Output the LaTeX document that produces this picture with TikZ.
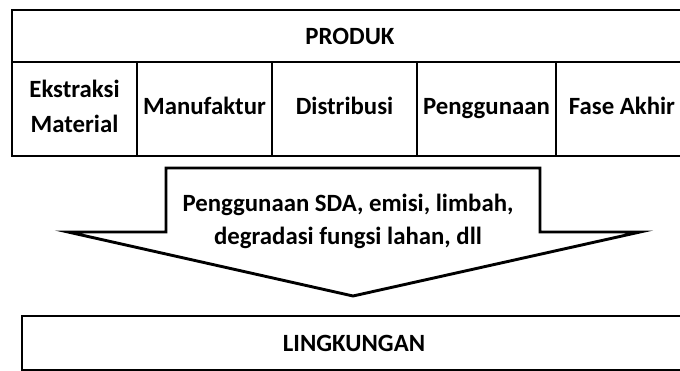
\documentclass[tikz,border=0pt]{standalone}
\usepackage{fontspec}
\setmainfont{Carlito}
\begin{document}
\begin{tikzpicture}[x=1pt,y=-1pt,
  box/.style={draw=black,line width=2.9pt,rectangle,inner sep=0pt,font=\fontsize{24.8}{35}\selectfont\bfseries,text=black,align=center},
  one/.style={text height=18pt,text depth=6pt},
  lbl/.style={inner sep=0pt,font=\fontsize{24.8}{33}\selectfont\bfseries,text=black,align=center}]
\clip (0,0) rectangle (680,371);
\useasboundingbox (0,0) rectangle (680,371);
\fill[white] (0,0) rectangle (680,371);
% header
\node[box,minimum width=676pt,minimum height=52pt] (produk) at (350,36) {PRODUK};
% cells
\node[box,minimum width=125pt,minimum height=94pt,text depth=5pt] (c1) at (74.5,109) {Ekstraksi\\Material};
\node[box,one,minimum width=135pt,minimum height=94pt] (c2) at (204.5,109) {Manufaktur};
\node[box,one,minimum width=145pt,minimum height=94pt] (c3) at (344.5,109) {Distribusi};
\node[box,one,minimum width=139pt,minimum height=94pt] (c4) at (486.5,109) {Penggunaan};
\node[box,one,minimum width=132pt,minimum height=94pt] (c5) at (622,109) {Fase Akhir};
% arrow
\coordinate (a1) at (166,168);
\coordinate (a2) at (540,168);
\coordinate (a3) at (540,232);
\coordinate (a4) at (640,232);
\coordinate (a5) at (353,296);
\coordinate (a6) at (68,232);
\coordinate (a7) at (166,232);
\draw[line width=2.9pt,line join=miter,fill=white] (a1) -- (a2) -- (a3) -- (a4) -- (a5) -- (a6) -- (a7) -- cycle;
\node[lbl] (impact) at (348,221) {Penggunaan SDA, emisi, limbah,\\degradasi fungsi lahan, dll};
% bottom
\node[box,minimum width=664pt,minimum height=54pt] (lingk) at (354,343) {LINGKUNGAN};
\end{tikzpicture}
\end{document}
